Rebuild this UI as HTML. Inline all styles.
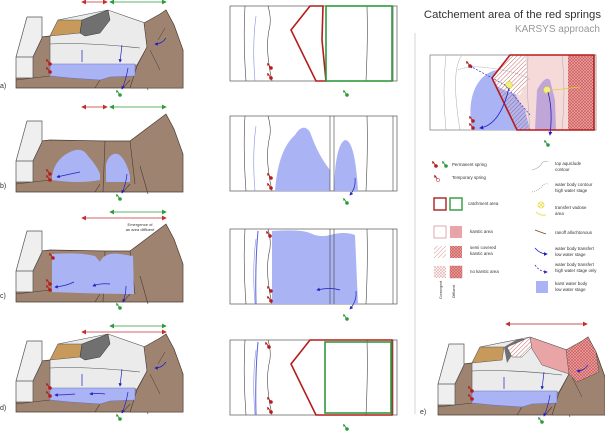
<!DOCTYPE html>
<html><head><meta charset="utf-8"><style>
html,body{margin:0;padding:0;background:#fff;}
svg{display:block;font-family:"Liberation Sans",sans-serif;}
</style></head><body>
<svg width="605" height="431" viewBox="0 0 605 431" xmlns="http://www.w3.org/2000/svg">
<defs>
<marker id="ar" markerWidth="6" markerHeight="6" refX="5" refY="3" orient="auto-start-reverse"><path d="M0,0L6,3L0,6z" fill="#c03030"/></marker>
<marker id="ag" markerWidth="6" markerHeight="6" refX="5" refY="3" orient="auto-start-reverse"><path d="M0,0L6,3L0,6z" fill="#2e9a3c"/></marker>
<marker id="ab" markerWidth="5" markerHeight="5" refX="4" refY="2.5" orient="auto"><path d="M0,0L5,2.5L0,5z" fill="#2020c0"/></marker>
<pattern id="hatch" width="3" height="3" patternUnits="userSpaceOnUse" patternTransform="rotate(45)"><rect width="3" height="3" fill="#fff"/><line x1="0" y1="0" x2="0" y2="3" stroke="#c46a6a" stroke-width="1"/></pattern>
<pattern id="hatchb" width="3" height="3" patternUnits="userSpaceOnUse" patternTransform="rotate(45)"><rect width="3" height="3" fill="#b9b4e8"/><line x1="0" y1="0" x2="0" y2="3" stroke="#7770b0" stroke-width="1"/></pattern>
<pattern id="cross" width="3" height="3" patternUnits="userSpaceOnUse"><rect width="3" height="3" fill="#e9a5a5"/><path d="M0,0L3,3M3,0L0,3" stroke="#c55" stroke-width="0.6"/></pattern>
<pattern id="crossl" width="3" height="3" patternUnits="userSpaceOnUse"><rect width="3" height="3" fill="#fff"/><path d="M0,0L3,3M3,0L0,3" stroke="#e2aaaa" stroke-width="0.6"/></pattern>
<g id="ground">
<polygon points="16,88 16,78 33,38 50,36 105,37 130,37 150,22 166,10 174,25 183,50 183,88" fill="#9e8470" stroke="#4a3a30" stroke-width="0.7"/>
<path d="M16,80 L33,78 L50,76 M100,80 L95,88 M130,80 L123,88 M140,62 L148,90" stroke="#4a3a30" stroke-width="0.6" fill="none"/>
<polygon points="16,57 27,17 42,17 42,38 33,57 33,78 16,78" fill="#efefef" stroke="#555" stroke-width="0.7"/>
<path d="M16,57 L33,57 M33,57 L42,38" stroke="#555" stroke-width="0.7"/>
</g>
<g id="spr">
<circle cx="0" cy="0" r="1.8" fill="#b51c1c"/><path d="M0,0 L-3,-4" stroke="#b51c1c" stroke-width="1"/><path d="M-4,-5 L-1.5,-4 L-3.5,-2z" fill="#b51c1c"/>
</g>
<g id="sprg">
<circle cx="0" cy="0" r="1.8" fill="#2e9a3c"/><path d="M0,0 L-3,-4" stroke="#2e9a3c" stroke-width="1"/><path d="M-4,-5 L-1.5,-4 L-3.5,-2z" fill="#2e9a3c"/>
</g>
<g id="lime">
<polygon points="50,36 58,20 108,10 145,23 147,47 137,65 50,65" fill="#ebebeb" stroke="#555" stroke-width="0.6"/>
<path d="M50,44 Q85,42 140,48" stroke="#555" stroke-width="0.6" fill="none"/>
<polygon points="144,23 160,14 166,10 174,25 183,50 183,88 130,88 137,66 147,47" fill="#9e8470" stroke="#4a3a30" stroke-width="0.6"/>
<path d="M150,50 L160,70 M158,40 L165,28" stroke="#4a3a30" stroke-width="0.5" fill="none"/>
<polygon points="50,64 135,64 135,76 110,77 100,80 70,78 50,76" fill="#aab4f5" stroke="#6670c0" stroke-width="0.5"/>
<path d="M82,50 L82,62 M122,45 L120,62" stroke="#2020c0" stroke-width="0.7" marker-end="url(#ab)"/>
<path d="M128,68 Q126,80 122,89" stroke="#2020c0" stroke-width="0.7" fill="none" marker-end="url(#ab)"/>
<path d="M166,38 Q162,44 155,44" stroke="#2020c0" stroke-width="0.7" fill="none" marker-end="url(#ab)"/>
<use href="#spr" x="50" y="64"/><use href="#spr" x="50" y="72"/>
<use href="#sprg" x="120" y="95"/>
</g>
<g id="mapbase">
<rect x="230" y="6" width="167" height="75" fill="#fff" stroke="#555" stroke-width="0.7"/>
<path d="M245,6 Q243,40 246,81 M268,6 Q272,20 269,30 Q265,50 272,81 M367,6 Q368,40 366,81 M393,6 L393,81" stroke="#444" stroke-width="0.6" fill="none"/>
<path d="M256,16 Q252,45 255,81" stroke="#8a90e0" stroke-width="0.6" fill="none"/>
</g>
</defs>

<text x="0" y="88" font-size="7" fill="#333">a)</text>
<line x1="82" y1="2" x2="107" y2="2" stroke="#c03030" stroke-width="0.8" marker-start="url(#ar)" marker-end="url(#ar)"/>
<line x1="110" y1="2" x2="166" y2="2" stroke="#2e9a3c" stroke-width="0.8" marker-start="url(#ag)" marker-end="url(#ag)"/>
<use href="#ground"/>
<use href="#lime"/>
<polygon points="58,20 82,20 80,33 50,36" fill="#c79a5c" stroke="#555" stroke-width="0.5"/>
<polygon points="82,20 108,10 110,20 100,33 85,36 80,33" fill="#707070" stroke="#333" stroke-width="0.5"/>

<use href="#mapbase"/>
<polygon points="310,6 323,6 322,40 326,81 316,81 291,30" fill="none" stroke="#b51c1c" stroke-width="1.6"/>
<rect x="326" y="6" width="66" height="75" fill="none" stroke="#2e9a3c" stroke-width="1.6"/>
<use href="#spr" x="271" y="68"/><use href="#spr" x="271" y="78"/>
<use href="#sprg" x="347" y="95"/>

<g transform="translate(0,104)">
<text x="0" y="84" font-size="7" fill="#333">b)</text>
<line x1="82" y1="3" x2="107" y2="3" stroke="#c03030" stroke-width="0.8" marker-start="url(#ar)" marker-end="url(#ar)"/>
<line x1="110" y1="3" x2="166" y2="3" stroke="#2e9a3c" stroke-width="0.8" marker-start="url(#ag)" marker-end="url(#ag)"/>
<use href="#ground"/>
<path d="M105,37 L103,88 M130,37 L135,80" stroke="#4a3a30" stroke-width="0.6"/>
<path d="M52,72 Q55,55 70,48 Q82,42 88,52 Q97,62 100,70 L100,76 Q80,80 52,76z" fill="#aab4f5"/>
<path d="M106,60 Q110,48 118,50 Q126,55 130,72 L130,78 L106,78z" fill="#aab4f5"/>
<path d="M80,68 Q70,70 57,73" stroke="#2020c0" stroke-width="0.7" fill="none" marker-end="url(#ab)"/>
<path d="M127,70 Q126,80 122,89" stroke="#2020c0" stroke-width="0.7" fill="none" marker-end="url(#ab)"/>
<use href="#spr" x="50" y="70"/><use href="#spr" x="50" y="76"/>
<use href="#sprg" x="120" y="95"/>
</g>
<g transform="translate(0,110)">
<use href="#mapbase"/>
<path d="M275,81 Q278,40 295,25 Q303,12 310,22 Q318,45 330,60 L330,81z" fill="#aab4f5"/>
<path d="M334,81 Q335,35 345,30 Q355,30 358,81z" fill="#aab4f5"/>
<path d="M330,6 L330,81 M334,6 L334,81" stroke="#444" stroke-width="0.6"/>
<use href="#spr" x="271" y="68"/><use href="#spr" x="271" y="78"/>
<path d="M355,68 Q356,78 350,85" stroke="#2020c0" stroke-width="0.7" fill="none" marker-end="url(#ab)"/>
<use href="#sprg" x="347" y="93"/>
</g>

<g transform="translate(0,214)">
<text x="0" y="84" font-size="7" fill="#333">c)</text>
<line x1="110" y1="-2" x2="166" y2="-2" stroke="#2e9a3c" stroke-width="0.8" marker-start="url(#ag)" marker-end="url(#ag)"/>
<line x1="82" y1="4" x2="166" y2="4" stroke="#c03030" stroke-width="0.8" marker-start="url(#ar)" marker-end="url(#ar)"/>
<text x="140" y="12" font-size="4" fill="#333" text-anchor="middle">Emergence of</text>
<text x="140" y="17" font-size="4" fill="#333" text-anchor="middle">an area diffluent</text>
<use href="#ground"/>
<path d="M105,37 L103,88 M130,37 L135,80" stroke="#4a3a30" stroke-width="0.6"/>
<path d="M52,75 L52,40 Q80,38 95,42 L100,48 Q104,38 120,40 L133,42 L134,80 Q100,80 52,78z" fill="#aab4f5"/>
<path d="M74,68 Q66,72 55,73" stroke="#2020c0" stroke-width="0.7" fill="none" marker-end="url(#ab)"/>
<path d="M110,70 Q100,69 93,72" stroke="#2020c0" stroke-width="0.7" fill="none" marker-end="url(#ab)"/>
<path d="M126,72 Q126,80 123,88" stroke="#2020c0" stroke-width="0.7" fill="none" marker-end="url(#ab)"/>
<use href="#spr" x="53" y="44"/><use href="#spr" x="50" y="70"/><use href="#spr" x="50" y="76"/>
<use href="#sprg" x="120" y="94"/>
</g>
<g transform="translate(0,223)">
<use href="#mapbase"/>
<path d="M272,8 Q300,6 310,10 Q320,15 330,12 Q345,8 355,12 L358,81 L272,81z" fill="#aab4f5"/>
<path d="M330,6 L330,81 M334,6 L334,81" stroke="#444" stroke-width="0.6"/>
<path d="M258,8 Q255,40 256,81" stroke="#5560d8" stroke-width="1" fill="none"/>
<use href="#spr" x="270" y="13"/><use href="#spr" x="271" y="68"/><use href="#spr" x="271" y="78"/>
<path d="M340,67 Q330,64 317,67" stroke="#2020c0" stroke-width="0.7" fill="none" marker-end="url(#ab)"/>
<path d="M356,68 Q357,78 350,86" stroke="#2020c0" stroke-width="0.7" fill="none" marker-end="url(#ab)"/>
<use href="#sprg" x="347" y="96"/>
</g>

<g transform="translate(0,324)">
<text x="0" y="86" font-size="7" fill="#333">d)</text>
<line x1="110" y1="2" x2="166" y2="2" stroke="#2e9a3c" stroke-width="0.8" marker-start="url(#ag)" marker-end="url(#ag)"/>
<line x1="82" y1="8" x2="166" y2="8" stroke="#c03030" stroke-width="0.8" marker-start="url(#ar)" marker-end="url(#ar)"/>
<use href="#ground"/>
<use href="#lime"/>
<polygon points="58,20 82,20 80,33 50,36" fill="#c79a5c" stroke="#555" stroke-width="0.5"/>
<polygon points="82,20 108,10 110,20 100,33 85,36 80,33" fill="#707070" stroke="#333" stroke-width="0.5"/>
<path d="M75,70 Q65,71 55,71" stroke="#2020c0" stroke-width="0.7" fill="none" marker-end="url(#ab)"/>
<path d="M105,70 Q98,69 90,70" stroke="#2020c0" stroke-width="0.7" fill="none" marker-end="url(#ab)"/>
</g>
<g transform="translate(0,334)">
<use href="#mapbase"/>
<path d="M258,8 Q255,40 256,81" stroke="#5560d8" stroke-width="1" fill="none"/>
<polygon points="310,6 392,6 392,81 316,81 291,30" fill="none" stroke="#b51c1c" stroke-width="1.6"/>
<rect x="325" y="8" width="66" height="71" fill="none" stroke="#2e9a3c" stroke-width="1.6"/>
<use href="#spr" x="269" y="13"/><use href="#spr" x="271" y="68"/><use href="#spr" x="271" y="78"/>
<use href="#sprg" x="347" y="95"/>
</g>

<line x1="415" y1="33" x2="415" y2="414" stroke="#ccc" stroke-width="0.8"/>

<text x="601" y="18" font-size="11.3" fill="#333" text-anchor="end">Catchement area of the red springs</text>
<text x="600" y="32" font-size="10" fill="#999" text-anchor="end">KARSYS approach</text>

<rect x="430" y="55" width="166" height="75" fill="#fff" stroke="#888" stroke-width="0.8"/>
<polygon points="510,55 594,55 594,130 517,130 492,78" fill="#f6dada"/>
<rect x="568" y="55" width="26" height="75" fill="url(#cross)"/>
<path d="M472,130 Q466,95 482,78 Q495,66 506,72 Q514,90 522,110 L524,130z" fill="#aab4f5"/>
<polygon points="492,78 510,55 525,55 528,80 520,95 500,90" fill="url(#hatch)"/>
<polygon points="496,86 515,95 525,110 530,130 517,130" fill="url(#hatchb)"/>
<path d="M535,130 L537,90 Q545,75 550,80 L555,100 L556,130z" fill="#bfa6d6"/>
<path d="M528,55 Q526,90 530,130 M562,55 Q566,90 562,130 M446,55 Q442,90 446,130 M462,55 Q450,70 460,130" stroke="#aaa" stroke-width="0.5" fill="none"/>
<path d="M458,70 Q470,65 490,68 Q520,72 530,80" stroke="#666" stroke-width="0.5" stroke-dasharray="1,1" fill="none"/>
<polygon points="510,55 594,55 594,130 517,130 492,78" fill="none" stroke="#b51c1c" stroke-width="1.6"/>
<circle cx="509" cy="85" r="3.5" fill="#f2ee80" stroke="#d4c838" stroke-width="0.6"/>
<circle cx="547" cy="90" r="3.5" fill="#f2ee80" stroke="#d4c838" stroke-width="0.6"/>
<path d="M580,87 L553,90" stroke="#e0d030" stroke-width="0.8"/>
<path d="M509,88 Q500,125 480,128" stroke="#2020c0" stroke-width="0.8" fill="none" marker-end="url(#ab)"/>
<path d="M548,92 Q553,110 550,135" stroke="#2020c0" stroke-width="0.8" fill="none" marker-end="url(#ab)"/>
<path d="M530,115 L505,85 L470,66" stroke="#2020c0" stroke-width="0.6" stroke-dasharray="2,1.5" fill="none" marker-end="url(#ab)"/>
<use href="#spr" x="470" y="66"/><use href="#spr" x="473" y="121"/><use href="#spr" x="473" y="128"/>
<use href="#sprg" x="548" y="145"/>

<g font-size="4.4" fill="#333">
<use href="#spr" x="436" y="166"/><use href="#sprg" x="446" y="166"/>
<text x="452" y="166">Permanent spring</text>
<use href="#spr" x="438" y="180"/><circle cx="438" cy="180" r="1.3" fill="#fff"/>
<text x="452" y="179">Temporary spring</text>
<rect x="434" y="198" width="12" height="12" fill="none" stroke="#a82020" stroke-width="1.4"/>
<rect x="450" y="198" width="12" height="12" fill="none" stroke="#2e9a3c" stroke-width="1.4"/>
<text x="468" y="205">catchment area</text>
<rect x="434" y="226" width="12" height="12" fill="#fff" stroke="#d08a8a" stroke-width="0.7"/>
<rect x="450" y="226" width="12" height="12" fill="#e9a5a5"/>
<text x="470" y="233">karstic area</text>
<rect x="434" y="246" width="12" height="12" fill="url(#hatch)" opacity="0.7"/>
<rect x="450" y="246" width="12" height="12" fill="url(#cross)"/>
<text x="470" y="249">semi covered</text><text x="470" y="255">karstic area</text>
<rect x="434" y="266" width="12" height="12" fill="url(#crossl)"/>
<rect x="450" y="266" width="12" height="12" fill="url(#cross)" stroke="#c66" stroke-width="0.4"/>
<text x="470" y="273">no karstic area</text>
<text transform="translate(442,299) rotate(-90)" font-size="3.5">Convergent</text>
<text transform="translate(455,298) rotate(-90)" font-size="3.5">Diffluent</text>

<path d="M532,170 Q540,168 542,163 Q545,160 548,162" stroke="#aaa" stroke-width="0.6" fill="none"/>
<text x="555" y="165">top aquiclude</text><text x="555" y="171">contour</text>
<path d="M532,192 Q540,190 542,186 Q545,183 548,184" stroke="#888" stroke-width="0.6" stroke-dasharray="1,1" fill="none"/>
<text x="555" y="186">water body contour</text><text x="555" y="192">high water stage</text>
<circle cx="541" cy="205" r="3" fill="none" stroke="#e6d830" stroke-width="0.8"/>
<path d="M539,203L543,207M543,203L539,207" stroke="#e6d830" stroke-width="0.6"/>
<path d="M536,212 Q540,216 546,215" stroke="#e6d830" stroke-width="0.8" fill="none"/>
<text x="555" y="209">transfert vadose</text><text x="555" y="215">area</text>
<path d="M535,230 Q540,232 546,234" stroke="#7a4a30" stroke-width="0.8" fill="none"/>
<text x="555" y="234">ranoff allochtonous</text>
<path d="M535,248 Q540,254 547,254" stroke="#2020c0" stroke-width="0.8" fill="none" marker-end="url(#ab)"/>
<text x="555" y="250">water body transfert</text><text x="555" y="256">low water stage</text>
<path d="M535,265 Q540,272 547,272" stroke="#2020c0" stroke-width="0.7" stroke-dasharray="2,1.5" fill="none" marker-end="url(#ab)"/>
<text x="555" y="266">water body transfert</text><text x="555" y="272">high water stage only</text>
<rect x="536" y="281" width="12" height="12" fill="#aab4f5"/>
<text x="555" y="285">karst water body</text><text x="555" y="291">low water stage</text>
</g>

<g transform="translate(422,327)">
<use href="#ground"/>
<use href="#lime"/>
<polygon points="58,20 82,20 80,33 50,36" fill="#c79a5c" stroke="#555" stroke-width="0.5"/>
<polygon points="82,20 85,36 90,28 100,25 108,12 96,12" fill="#707070"/>
<polygon points="85,20 108,10 110,20 100,30 90,30" fill="url(#hatch)" stroke="#555" stroke-width="0.5"/>
<polygon points="108,10 145,23 147,47 120,38 110,22" fill="#e9a5a5" stroke="#555" stroke-width="0.5"/>
<polygon points="144,23 160,14 166,10 174,25 177,45 155,55 147,47" fill="url(#cross)" stroke="#555" stroke-width="0.5"/>
<path d="M166,38 Q162,44 155,44" stroke="#2020c0" stroke-width="0.7" fill="none" marker-end="url(#ab)"/>
<line x1="84" y1="-3" x2="165" y2="-3" stroke="#b51c1c" stroke-width="0.8" marker-start="url(#ar)" marker-end="url(#ar)"/>
</g>
<text x="420" y="414" font-size="7" fill="#333">e)</text>
</svg>
</body></html>
